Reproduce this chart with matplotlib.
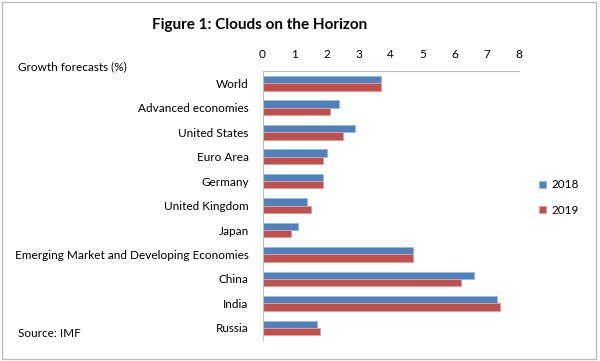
import numpy as np
import matplotlib.pyplot as plt
from matplotlib.patches import Rectangle

categories = ['World', 'Advanced economies', 'United States', 'Euro Area', 'Germany',
              'United Kingdom', 'Japan', 'Emerging Market and Developing Economies',
              'China', 'India', 'Russia']
f2018 = [3.7, 2.4, 2.9, 2.0, 1.9, 1.4, 1.1, 4.7, 6.6, 7.3, 1.7]
f2019 = [3.7, 2.1, 2.5, 1.9, 1.9, 1.5, 0.9, 4.7, 6.2, 7.4, 1.8]

plt.rcParams['font.family'] = ['Lato', 'DejaVu Sans']

fig = plt.figure(figsize=(6, 3.61), dpi=100)
ax = fig.add_axes([0.4375, 0.058, 0.4275, 0.745])

y = np.arange(len(categories))
h = 0.3
ax.barh(y - h / 2, f2018, height=h, color='#4F81BD', ec='#9DB9E0', lw=0.6, label='2018')
ax.barh(y + h / 2, f2019, height=h, color='#C0504D', ec='#E0A09E', lw=0.6, label='2019')

ax.set_xlim(0, 8)
ax.set_ylim(len(categories) - 0.5, -0.5)
ax.set_yticks(y)
ax.set_yticklabels(categories, fontsize=8.5)
ax.set_xticks(range(9))
ax.xaxis.tick_top()
ax.tick_params(axis='x', length=0, labelsize=8.5, pad=8)
ax.tick_params(axis='y', length=0, pad=10)
for s in ['right', 'bottom']:
    ax.spines[s].set_visible(False)
for s in ['top', 'left']:
    ax.spines[s].set_color('#BFBFBF')

ax.legend(loc='center left', bbox_to_anchor=(1.035, 0.53), frameon=False, fontsize=8.5,
          handlelength=0.6, handleheight=0.6, handletextpad=0.5, labelspacing=1.2)

fig.text(0.433, 0.93, 'Figure 1: Clouds on the Horizon', ha='center', va='center',
         fontsize=11, fontweight='bold')
fig.text(0.03, 0.814, 'Growth forecasts (%)', ha='left', va='center', fontsize=8.5)
fig.text(0.03, 0.075, 'Source: IMF', ha='left', va='center', fontsize=8.5)
fig.patches.append(Rectangle((0.004, 0.006), 0.99, 0.988, transform=fig.transFigure,
                             fill=False, ec='#BFBFBF', lw=1))

fig.savefig('out.png', dpi=100)
